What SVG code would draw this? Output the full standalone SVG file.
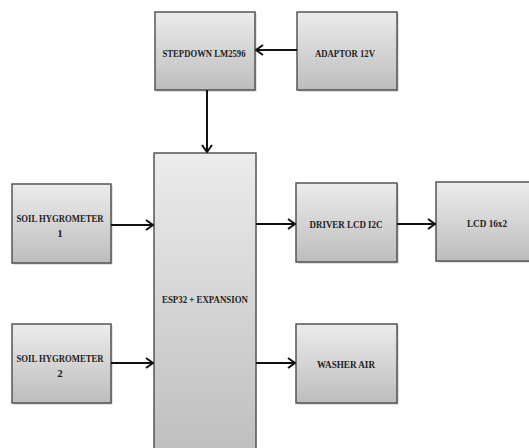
<svg xmlns="http://www.w3.org/2000/svg" width="529" height="448" viewBox="0 0 529 448">
<defs>
<linearGradient id="g" x1="0" y1="0" x2="0" y2="1">
<stop offset="0" stop-color="#ececec"/>
<stop offset="1" stop-color="#bdbdbd"/>
</linearGradient>
<marker id="ah" markerWidth="9" markerHeight="12" refX="8" refY="6" orient="auto" markerUnits="userSpaceOnUse">
<path d="M1,1 L8,6 L1,11" fill="none" stroke="#111" stroke-width="2"/>
</marker>
<style>
.box{fill:url(#g);stroke:#555;stroke-width:1.5}
.sh{fill:#888;opacity:0.5}
.t{font-family:"Liberation Serif",serif;font-weight:bold;font-size:11px;fill:#222;text-anchor:middle}
.c{stroke:#111;stroke-width:2;fill:none;marker-end:url(#ah)}
</style>
</defs>
<rect width="529" height="448" fill="#fff"/>
<g id="stepdown">
<rect class="sh" x="156.5" y="13.5" width="100" height="78"/>
<rect class="box" x="155" y="12" width="100" height="78"/>
<text class="t" x="204" y="57" textLength="83" lengthAdjust="spacingAndGlyphs">STEPDOWN LM2596</text>
</g>
<g id="adaptor">
<rect class="sh" x="298.5" y="13.5" width="100" height="78"/>
<rect class="box" x="297" y="12" width="100" height="78"/>
<text class="t" x="345" y="57" textLength="60" lengthAdjust="spacingAndGlyphs">ADAPTOR 12V</text>
</g>
<g id="soil1">
<rect class="sh" x="13.5" y="185.5" width="99" height="79"/>
<rect class="box" x="12" y="184" width="99" height="79"/>
<text class="t" x="60" y="222" textLength="87" lengthAdjust="spacingAndGlyphs">SOIL HYGROMETER</text>
<text class="t" x="60" y="237">1</text>
</g>
<g id="soil2">
<rect class="sh" x="13.5" y="325.5" width="99" height="79"/>
<rect class="box" x="12" y="324" width="99" height="79"/>
<text class="t" x="60" y="362" textLength="87" lengthAdjust="spacingAndGlyphs">SOIL HYGROMETER</text>
<text class="t" x="60" y="377">2</text>
</g>
<g id="esp32">
<rect class="box" x="154" y="153" width="102" height="310"/>
<text class="t" x="205" y="303" textLength="86" lengthAdjust="spacingAndGlyphs">ESP32 + EXPANSION</text>
</g>
<g id="driver">
<rect class="sh" x="297.5" y="184.5" width="101" height="79"/>
<rect class="box" x="296" y="183" width="101" height="79"/>
<text class="t" x="346" y="228" textLength="73" lengthAdjust="spacingAndGlyphs">DRIVER LCD I2C</text>
</g>
<g id="lcd">
<rect class="sh" x="437.5" y="183.5" width="100" height="79"/>
<rect class="box" x="436" y="182" width="100" height="79"/>
<text class="t" x="487" y="227" textLength="40" lengthAdjust="spacingAndGlyphs">LCD 16x2</text>
</g>
<g id="washer">
<rect class="sh" x="297.5" y="325.5" width="101" height="79"/>
<rect class="box" x="296" y="324" width="101" height="79"/>
<text class="t" x="346" y="368" textLength="58" lengthAdjust="spacingAndGlyphs">WASHER AIR</text>
</g>
<g id="connectors">
<line class="c" x1="297" y1="50" x2="256" y2="50"/>
<line class="c" x1="207" y1="90" x2="207" y2="152"/>
<line class="c" x1="111" y1="225" x2="153" y2="225"/>
<line class="c" x1="111" y1="363" x2="153" y2="363"/>
<line class="c" x1="256" y1="224" x2="295" y2="224"/>
<line class="c" x1="397" y1="224" x2="435" y2="224"/>
<line class="c" x1="256" y1="363" x2="295" y2="363"/>
</g>
</svg>
